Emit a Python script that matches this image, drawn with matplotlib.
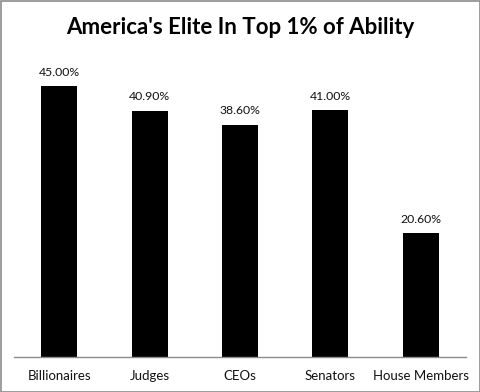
import matplotlib
matplotlib.use("Agg")
import matplotlib.pyplot as plt
from matplotlib.patches import Rectangle

categories = ["Billionaires", "Judges", "CEOs", "Senators", "House Members"]
values = [45.0, 40.9, 38.6, 41.0, 20.6]
title = "America's Elite In Top 1% of Ability"

plt.rcParams["font.family"] = ["Lato", "DejaVu Sans"]

W, H = 481, 392
fig = plt.figure(figsize=(W / 100, H / 100), dpi=100)
ax = fig.add_axes([14 / W, (H - 357) / H, 452 / W, 301 / H])

x = range(len(categories))
ax.bar(x, values, width=0.4, color="black")
ax.set_xlim(-0.5, len(categories) - 0.5)
ax.set_ylim(0, 50)

for i, v in zip(x, values):
    ax.annotate(f"{v:.2f}%", (i, v), xytext=(0, 6), textcoords="offset points",
                ha="center", va="bottom", fontsize=8.8, color="#111111")

ax.set_xticks(list(x))
ax.set_xticklabels(categories, fontsize=9.5, color="#111111")
ax.tick_params(axis="x", length=0, pad=9)
ax.set_yticks([])
for s in ["top", "left", "right"]:
    ax.spines[s].set_visible(False)
ax.spines["bottom"].set_color("#8c8c8c")
ax.spines["bottom"].set_linewidth(1)

fig.text(0.5, 1 - 27 / H, title, ha="center", va="center",
         fontsize=16, fontweight="bold", color="black")

# grey frame round the chart
fig.patches.append(Rectangle((0.5 / W, 0.5 / H), 1 - 1.5 / W, 1 - 1.5 / H,
                             transform=fig.transFigure, fill=False,
                             edgecolor="#8c8c8c", linewidth=1.2))

fig.savefig("out.png", dpi=100)
